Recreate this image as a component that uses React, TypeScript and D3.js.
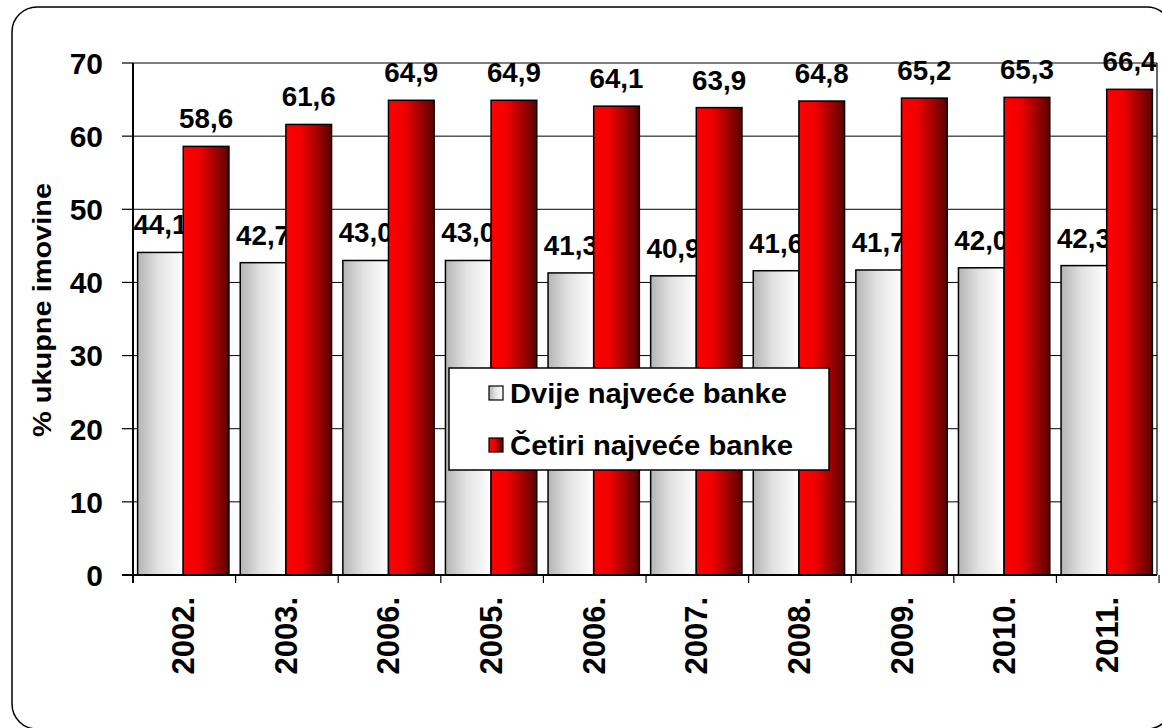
import React from 'react';
import * as d3 from 'd3';

const years = ['2002.', '2003.', '2006.', '2005.', '2006.', '2007.', '2008.', '2009.', '2010.', '2011.'];
const twoLargest = [44.1, 42.7, 43.0, 43.0, 41.3, 40.9, 41.6, 41.7, 42.0, 42.3];
const fourLargest = [58.6, 61.6, 64.9, 64.9, 64.1, 63.9, 64.8, 65.2, 65.3, 66.4];
const seriesNames = ['Dvije najveće banke', 'Četiri najveće banke'];
const yTicks = [0, 10, 20, 30, 40, 50, 60, 70];

const W = 1162;
const H = 728;
const plot = { left: 133, right: 1157, top: 63, bottom: 575 };
const FONT = '"Liberation Sans", Arial, Helvetica, sans-serif';

const fmt = (v: number) => d3.format('.1f')(v).replace('.', ',');

export default function App() {
  const keys = years.map((_, i) => String(i));
  const x0 = d3.scaleBand<string>()
    .domain(keys)
    .range([plot.left, plot.right])
    .paddingInner(0.11)
    .paddingOuter(0.045);
  const x1 = d3.scaleBand<string>()
    .domain(['a', 'b'])
    .range([0, x0.bandwidth()]);
  const y = d3.scaleLinear().domain([0, 70]).range([plot.bottom, plot.top]);
  const step = x0.step();

  const bars = (vals: number[], key: string, fill: string) =>
    vals.map((v, i) => (
      <rect
        key={key + i}
        x={(x0(keys[i]) ?? 0) + (x1(key) ?? 0)}
        y={y(v)}
        width={x1.bandwidth()}
        height={y(0) - y(v)}
        fill={fill}
        stroke="#000"
        strokeWidth={1.5}
      />
    ));

  // value labels, comma as decimal separator
  const labels = (vals: number[], key: string) =>
    vals.map((v, i) => (
      <text
        key={'l' + key + i}
        x={(x0(keys[i]) ?? 0) + (x1(key) ?? 0) + x1.bandwidth() / 2}
        y={y(v) - 18}
        textAnchor="middle"
        fontSize={27}
        fontWeight="bold"
        fontFamily={FONT}
        textLength={54}
        lengthAdjust="spacingAndGlyphs"
      >
        {fmt(v)}
      </text>
    ));

  return (
    <svg width={W} height={H} style={{ position: 'absolute', left: 0, top: 0, background: '#fff' }}>
      <defs>
        <linearGradient id="gGray" x1="0" x2="1" y1="0" y2="0">
          <stop offset="0%" stopColor="#b4b4b4" />
          <stop offset="45%" stopColor="#e2e2e2" />
          <stop offset="100%" stopColor="#ffffff" />
        </linearGradient>
        <linearGradient id="gRed" x1="0" x2="1" y1="0" y2="0">
          <stop offset="0%" stopColor="#ff0000" />
          <stop offset="35%" stopColor="#f00000" />
          <stop offset="100%" stopColor="#5c0000" />
        </linearGradient>
      </defs>

      <rect x={12} y={7} width={1160} height={722} rx={25} ry={25} fill="#fff" stroke="#000" strokeWidth={1.5} />

      {/* gridlines */}
      {yTicks.slice(1).map(t => (
        <line key={'g' + t} x1={plot.left} x2={plot.right} y1={y(t)} y2={y(t)} stroke="#000" strokeWidth={1} />
      ))}
      <line x1={plot.right} x2={plot.right} y1={plot.top} y2={plot.bottom} stroke="#000" strokeWidth={1.2} />

      {bars(twoLargest, 'a', 'url(#gGray)')}
      {labels(twoLargest, 'a')}
      {bars(fourLargest, 'b', 'url(#gRed)')}

      {/* axes */}
      <line x1={plot.left} x2={plot.left} y1={plot.top} y2={plot.bottom + 8} stroke="#000" strokeWidth={2} />
      <line x1={plot.left - 11} x2={plot.right} y1={plot.bottom} y2={plot.bottom} stroke="#000" strokeWidth={2} />
      {yTicks.map(t => (
        <g key={'t' + t}>
          <line x1={plot.left - 11} x2={plot.left} y1={y(t)} y2={y(t)} stroke="#000" strokeWidth={1.2} />
          <text
            x={plot.left - 30}
            y={y(t)}
            dy="0.36em"
            textAnchor="end"
            fontSize={30}
            fontWeight="bold"
            fontFamily={FONT}
          >
            {t}
          </text>
        </g>
      ))}
      {d3.range(years.length + 1).map(i => (
        <line
          key={'xt' + i}
          x1={plot.left + i * step}
          x2={plot.left + i * step}
          y1={plot.bottom}
          y2={plot.bottom + 8}
          stroke="#000"
          strokeWidth={1.2}
        />
      ))}
      {years.map((yr, i) => {
        const cx = (x0(keys[i]) ?? 0) + x0.bandwidth() / 2;
        return (
          <text
            key={'xl' + i}
            transform={`translate(${cx + 11},597) rotate(-90)`}
            textAnchor="end"
            fontSize={31}
            fontWeight="bold"
            fontFamily={FONT}
          >
            {yr}
          </text>
        );
      })}

      {labels(fourLargest, 'b')}

      <text
        transform={`translate(51,310) rotate(-90)`}
        textAnchor="middle"
        fontSize={26}
        fontWeight="bold"
        fontFamily={FONT}
        textLength={254}
        lengthAdjust="spacingAndGlyphs"
      >
        % ukupne imovine
      </text>

      {/* legend */}
      <rect x={449} y={368} width={380} height={102} fill="#fff" stroke="#000" strokeWidth={1.5} />
      {seriesNames.map((name, i) => {
        const cy = 393 + i * 52;
        return (
          <g key={'lg' + i}>
            <rect x={489} y={cy - 7} width={14} height={14} fill={i === 0 ? 'url(#gGray)' : 'url(#gRed)'} stroke="#000" strokeWidth={1.2} />
            <text
              x={510}
              y={cy}
              dy="0.36em"
              fontSize={27}
              fontWeight="bold"
              fontFamily={FONT}
              textLength={i === 0 ? 277 : 283}
              lengthAdjust="spacingAndGlyphs"
            >
              {name}
            </text>
          </g>
        );
      })}
    </svg>
  );
}
